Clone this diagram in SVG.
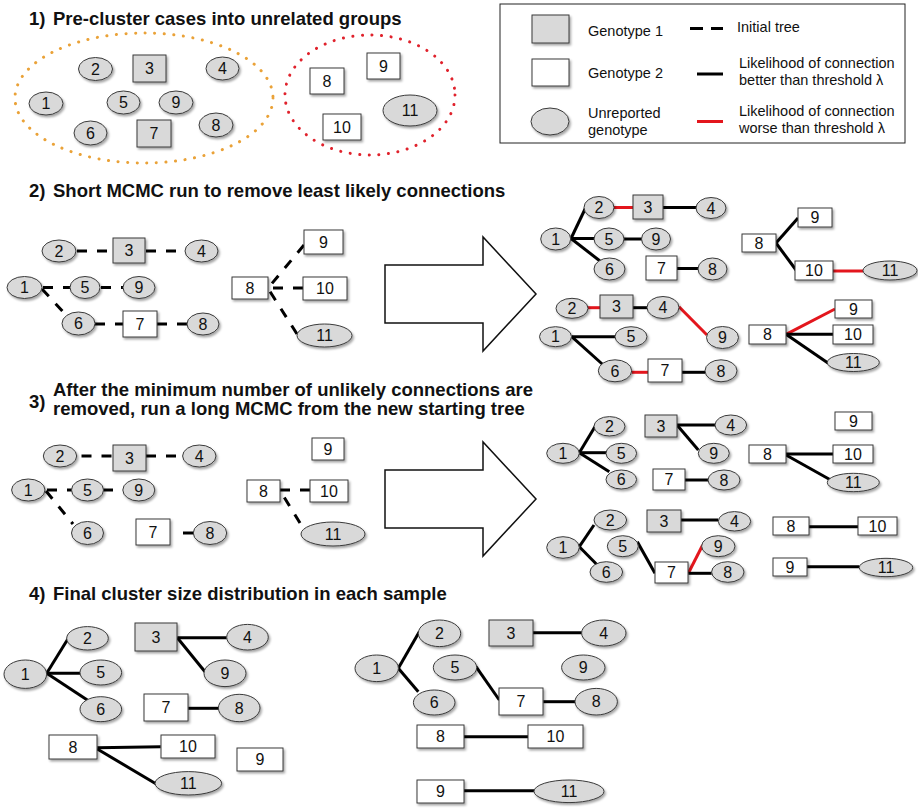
<svg xmlns="http://www.w3.org/2000/svg" width="918" height="811" viewBox="0 0 918 811">
<defs>
<filter id="sh" x="-30%" y="-30%" width="170%" height="170%">
<feDropShadow dx="1.5" dy="2" stdDeviation="1.3" flood-color="#000" flood-opacity="0.35"/>
</filter>
<style>
.u,.g1{fill:#d9d9d9;stroke:#3a3a3a;stroke-width:1;filter:url(#sh)}
.g2{fill:#fff;stroke:#3a3a3a;stroke-width:1;filter:url(#sh)}
text{font-family:"Liberation Sans",Arial,sans-serif;fill:#111}
.node text{font-size:16px;text-anchor:middle}
.title{font-size:18.5px;font-weight:bold}
.leg{font-size:14.5px}
.s{stroke:#000;stroke-width:3;fill:none}
.r{stroke:#e3161d;stroke-width:3;fill:none}
.d{stroke:#000;stroke-width:3;fill:none;stroke-dasharray:10 10}
.arrow{fill:#fff;stroke:#111;stroke-width:1.5}
</style>
</defs>
<rect width="918" height="811" fill="#fff"/>

<!-- Titles -->
<text class="title" x="29" y="25">1)</text>
<text class="title" x="53" y="25">Pre-cluster cases into unrelated groups</text>
<text class="title" x="29" y="197">2)</text>
<text class="title" x="53" y="197">Short MCMC run to remove least likely connections</text>
<text class="title" x="29" y="408">3)</text>
<text class="title" x="53" y="396">After the minimum number of unlikely connections are</text>
<text class="title" x="53" y="415">removed, run a long MCMC from the new starting tree</text>
<text class="title" x="29" y="600">4)</text>
<text class="title" x="53" y="600">Final cluster size distribution in each sample</text>

<!-- Legend -->
<g id="legend">
<rect x="500" y="4" width="405" height="139" fill="#fff" stroke="#222" stroke-width="1"/>
<rect class="g1" x="532" y="15" width="37" height="28"/>
<rect class="g2" x="532" y="59" width="37" height="27"/>
<ellipse class="u" cx="550" cy="121.5" rx="19" ry="13.5"/>
<text class="leg" x="588" y="36">Genotype 1</text>
<text class="leg" x="588" y="78">Genotype 2</text>
<text class="leg" x="588" y="118">Unreported</text>
<text class="leg" x="588" y="135">genotype</text>
<line x1="690" y1="28.5" x2="703" y2="28.5" stroke="#000" stroke-width="3"/>
<line x1="711" y1="28.5" x2="723" y2="28.5" stroke="#000" stroke-width="3"/>
<line x1="697" y1="74" x2="723" y2="74" stroke="#000" stroke-width="3"/>
<line x1="697" y1="121.5" x2="723" y2="121.5" stroke="#e3161d" stroke-width="3"/>
<text class="leg" x="737" y="32">Initial tree</text>
<text class="leg" x="739" y="68">Likelihood of connection</text>
<text class="leg" x="739" y="85">better than threshold λ</text>
<text class="leg" x="739" y="116">Likelihood of connection</text>
<text class="leg" x="739" y="133">worse than threshold λ</text>
</g>

<!-- Section 1 groups -->
<ellipse cx="144" cy="98" rx="129" ry="65" fill="none" stroke="#eaa238" stroke-width="3" stroke-linecap="round" stroke-dasharray="0.1 9.5"/>
<ellipse cx="370" cy="95" rx="85" ry="60" fill="none" stroke="#e0222c" stroke-width="3" stroke-linecap="round" stroke-dasharray="0.1 9.5"/>

<!-- Big arrows -->
<path class="arrow" d="M385,265 H483 V237 L536,294 L483,351 V323 H385 Z"/>
<path class="arrow" d="M385,470 H483 V442 L536,499 L483,556 V528 H385 Z"/>

<!-- Connectors -->
<g id="connectors">
<!-- section 2 left -->
<line class="d" x1="77" y1="251" x2="113" y2="251"/>
<line class="d" x1="146" y1="251" x2="185" y2="251"/>
<line class="d" x1="43" y1="287.5" x2="70" y2="287.5"/>
<line class="d" x1="101" y1="287.5" x2="123" y2="287.5"/>
<line class="d" x1="42" y1="289" x2="66" y2="315"/>
<line class="d" x1="95" y1="324" x2="123" y2="324"/>
<line class="d" x1="157" y1="324" x2="187" y2="324"/>
<line class="d" x1="304" y1="245" x2="269" y2="287"/>
<line class="d" x1="303" y1="288" x2="269" y2="288"/>
<line class="d" x1="297" y1="334" x2="269" y2="290"/>
<!-- section 2 right top -->
<line class="s" x1="571" y1="238.5" x2="586" y2="207"/>
<line class="s" x1="571" y1="238.5" x2="594" y2="238.5"/>
<line class="s" x1="571" y1="238.5" x2="600" y2="261"/>
<line class="r" x1="614" y1="207.5" x2="633" y2="207.5"/>
<line class="s" x1="663" y1="207.5" x2="697" y2="207.5"/>
<line class="s" x1="624" y1="239" x2="642" y2="239"/>
<line class="s" x1="677" y1="268.5" x2="698" y2="268.5"/>
<line class="s" x1="776" y1="243" x2="798" y2="218"/>
<line class="s" x1="776" y1="243" x2="796" y2="270"/>
<line class="r" x1="833" y1="271" x2="863" y2="271"/>
<!-- section 2 right bottom -->
<line class="r" x1="588" y1="307.7" x2="600" y2="307.7"/>
<line class="s" x1="633" y1="307.7" x2="647" y2="307.7"/>
<line class="r" x1="679" y1="306.7" x2="707" y2="335"/>
<line class="s" x1="571.7" y1="336.7" x2="615" y2="336.7"/>
<line class="s" x1="571.7" y1="336.7" x2="603.3" y2="365"/>
<line class="r" x1="631.7" y1="372.3" x2="648.3" y2="372.3"/>
<line class="s" x1="681.7" y1="372.3" x2="705" y2="372.3"/>
<line class="r" x1="786" y1="334.3" x2="835" y2="309"/>
<line class="s" x1="786" y1="334.3" x2="833" y2="334.3"/>
<line class="s" x1="786" y1="334.3" x2="828.3" y2="363.3"/>
<!-- section 3 left -->
<line class="d" x1="81.5" y1="456" x2="113" y2="456"/>
<line class="d" x1="146" y1="456" x2="183" y2="456"/>
<line class="d" x1="47" y1="490" x2="72" y2="490"/>
<line class="d" x1="103" y1="490" x2="123" y2="490"/>
<line class="d" x1="46" y1="491" x2="73" y2="524"/>
<line class="s" x1="183" y1="533" x2="194" y2="533"/>
<line class="d" x1="310" y1="490" x2="280" y2="490"/>
<line class="d" x1="300" y1="523" x2="281" y2="492"/>
<!-- section 3 right top -->
<line class="s" x1="579.3" y1="452.7" x2="596" y2="425"/>
<line class="s" x1="579.3" y1="452.7" x2="606" y2="452.7"/>
<line class="s" x1="579.3" y1="452.7" x2="609.3" y2="471.7"/>
<line class="s" x1="677" y1="425" x2="715" y2="425"/>
<line class="s" x1="677" y1="425" x2="698.3" y2="450"/>
<line class="s" x1="685" y1="480" x2="708" y2="480"/>
<line class="s" x1="786" y1="454" x2="833" y2="454"/>
<line class="s" x1="786" y1="455" x2="830.7" y2="480"/>
<!-- section 3 right bottom -->
<line class="s" x1="579.3" y1="546.7" x2="594" y2="525"/>
<line class="s" x1="579.3" y1="546.7" x2="597.3" y2="565"/>
<line class="s" x1="637.3" y1="541.7" x2="655" y2="573.3"/>
<line class="r" x1="688.3" y1="573.3" x2="702.7" y2="545"/>
<line class="s" x1="688.3" y1="573.3" x2="711.7" y2="573.3"/>
<line class="s" x1="680.7" y1="520" x2="718.3" y2="520"/>
<line class="s" x1="809" y1="526.7" x2="858" y2="526.7"/>
<line class="s" x1="807" y1="566.7" x2="859.3" y2="566.7"/>
<!-- section 4 left -->
<line class="s" x1="46.7" y1="673.3" x2="68.3" y2="638.3"/>
<line class="s" x1="46.7" y1="673.3" x2="80" y2="673.3"/>
<line class="s" x1="46.7" y1="673.3" x2="87.3" y2="700"/>
<line class="s" x1="177.3" y1="637.7" x2="226.7" y2="637.7"/>
<line class="s" x1="177.3" y1="637.7" x2="205" y2="671.7"/>
<line class="s" x1="188.3" y1="708.3" x2="218.3" y2="708.3"/>
<line class="s" x1="97.3" y1="747.7" x2="160.7" y2="746.7"/>
<line class="s" x1="97.3" y1="749" x2="156.7" y2="784.3"/>
<!-- section 4 right -->
<line class="s" x1="398.3" y1="668.3" x2="419.3" y2="631.7"/>
<line class="s" x1="398.3" y1="668.3" x2="418.3" y2="691.7"/>
<line class="s" x1="532.7" y1="632.7" x2="581.7" y2="632.7"/>
<line class="s" x1="476" y1="666.7" x2="499.3" y2="700"/>
<line class="s" x1="543.3" y1="701.7" x2="575" y2="701.7"/>
<line class="s" x1="464" y1="736.7" x2="528.3" y2="736.7"/>
<line class="s" x1="464" y1="790.7" x2="534" y2="790.7"/>
</g>

<!-- Section 1 nodes -->
<g id="s1-n2" class="node"><ellipse class="u" cx="95.5" cy="69" rx="17" ry="11.5"/><text x="95.5" y="74.7">2</text></g>
<g id="s1-n3" class="node"><rect class="g1" x="133" y="55" width="33" height="27"/><text x="149.5" y="74.2">3</text></g>
<g id="s1-n4" class="node"><ellipse class="u" cx="222.5" cy="68.5" rx="16.5" ry="11.5"/><text x="222.5" y="74.2">4</text></g>
<g id="s1-n1" class="node"><ellipse class="u" cx="46" cy="103.5" rx="17" ry="11.5"/><text x="46" y="109.2">1</text></g>
<g id="s1-n5" class="node"><ellipse class="u" cx="123.5" cy="102.5" rx="16.5" ry="11.5"/><text x="123.5" y="108.2">5</text></g>
<g id="s1-n9" class="node"><ellipse class="u" cx="176" cy="102.5" rx="17" ry="11.5"/><text x="176" y="108.2">9</text></g>
<g id="s1-n6" class="node"><ellipse class="u" cx="90.5" cy="133" rx="16.5" ry="12"/><text x="90.5" y="138.7">6</text></g>
<g id="s1-n7" class="node"><rect class="g1" x="137" y="120" width="34" height="27"/><text x="154" y="139.2">7</text></g>
<g id="s1-n8" class="node"><ellipse class="u" cx="216" cy="125" rx="17" ry="12"/><text x="216" y="130.7">8</text></g>
<g id="s1-r8" class="node"><rect class="g2" x="310" y="68" width="34" height="26"/><text x="327" y="86.7">8</text></g>
<g id="s1-r9" class="node"><rect class="g2" x="367" y="53" width="33" height="26"/><text x="383.5" y="71.7">9</text></g>
<g id="s1-r10" class="node"><rect class="g2" x="323" y="114" width="38" height="26"/><text x="342" y="132.7">10</text></g>
<g id="s1-n11" class="node"><ellipse class="u" cx="410" cy="110.5" rx="27" ry="15.5"/><text x="410" y="116.2">11</text></g>

<!-- Section 2 left nodes -->
<g id="s2l-n2" class="node"><ellipse class="u" cx="59" cy="251" rx="17" ry="11"/><text x="59" y="256.7">2</text></g>
<g id="s2l-n3" class="node"><rect class="g1" x="113" y="238" width="32" height="25"/><text x="129" y="256.2">3</text></g>
<g id="s2l-n4" class="node"><ellipse class="u" cx="201.5" cy="251" rx="16.5" ry="11"/><text x="201.5" y="256.7">4</text></g>
<g id="s2l-n1" class="node"><ellipse class="u" cx="24.5" cy="287.5" rx="17.5" ry="11"/><text x="24.5" y="293.2">1</text></g>
<g id="s2l-n5" class="node"><ellipse class="u" cx="85" cy="287.5" rx="15" ry="11"/><text x="85" y="293.2">5</text></g>
<g id="s2l-n9" class="node"><ellipse class="u" cx="139" cy="287.5" rx="16" ry="11"/><text x="139" y="293.2">9</text></g>
<g id="s2l-n6" class="node"><ellipse class="u" cx="78.5" cy="323.5" rx="16.5" ry="11.5"/><text x="78.5" y="329.2">6</text></g>
<g id="s2l-n7" class="node"><rect class="g2" x="123" y="311" width="34" height="26"/><text x="140" y="329.7">7</text></g>
<g id="s2l-n8" class="node"><ellipse class="u" cx="203" cy="324" rx="16" ry="11"/><text x="203" y="329.7">8</text></g>
<g id="s2l-r8" class="node"><rect class="g2" x="232" y="277" width="36" height="22"/><text x="250" y="293.7">8</text></g>
<g id="s2l-r9" class="node"><rect class="g2" x="304" y="230" width="39" height="24"/><text x="323.5" y="247.7">9</text></g>
<g id="s2l-r10" class="node"><rect class="g2" x="303" y="277" width="44" height="23"/><text x="325" y="294.2">10</text></g>
<g id="s2l-n11" class="node"><ellipse class="u" cx="324.5" cy="335.5" rx="27.5" ry="11.5"/><text x="324.5" y="341.2">11</text></g>

<!-- Section 2 right top nodes -->
<g id="s2a-n2" class="node"><ellipse class="u" cx="599" cy="207.5" rx="15" ry="11"/><text x="599" y="213.2">2</text></g>
<g id="s2a-n3" class="node"><rect class="g1" x="633" y="195" width="30" height="24"/><text x="648" y="212.7">3</text></g>
<g id="s2a-n4" class="node"><ellipse class="u" cx="711" cy="208" rx="15" ry="10.5"/><text x="711" y="213.7">4</text></g>
<g id="s2a-n1" class="node"><ellipse class="u" cx="555.7" cy="239" rx="15" ry="11"/><text x="555.7" y="244.7">1</text></g>
<g id="s2a-n5" class="node"><ellipse class="u" cx="609" cy="239" rx="15" ry="11"/><text x="609" y="244.7">5</text></g>
<g id="s2a-n9" class="node"><ellipse class="u" cx="656" cy="239" rx="14.5" ry="11"/><text x="656" y="244.7">9</text></g>
<g id="s2a-n6" class="node"><ellipse class="u" cx="609.5" cy="269" rx="15.5" ry="11"/><text x="609.5" y="274.7">6</text></g>
<g id="s2a-n7" class="node"><rect class="g2" x="646" y="256" width="31" height="24"/><text x="661.5" y="273.7">7</text></g>
<g id="s2a-n8" class="node"><ellipse class="u" cx="712.5" cy="269" rx="14.5" ry="11"/><text x="712.5" y="274.7">8</text></g>
<g id="s2a-r8" class="node"><rect class="g2" x="742" y="234" width="34" height="18"/><text x="759" y="248.7">8</text></g>
<g id="s2a-r9" class="node"><rect class="g2" x="798" y="208" width="34" height="19"/><text x="815" y="223.2">9</text></g>
<g id="s2a-r10" class="node"><rect class="g2" x="795" y="261" width="38" height="19"/><text x="814" y="276.2">10</text></g>
<g id="s2a-n11" class="node"><ellipse class="u" cx="890" cy="270.5" rx="27" ry="9.5"/><text x="890" y="276.2">11</text></g>

<!-- Section 2 right bottom nodes -->
<g id="s2b-n2" class="node"><ellipse class="u" cx="572" cy="308.3" rx="16" ry="10"/><text x="572" y="314">2</text></g>
<g id="s2b-n3" class="node"><rect class="g1" x="600" y="295" width="33" height="23"/><text x="616.5" y="312.2">3</text></g>
<g id="s2b-n4" class="node"><ellipse class="u" cx="663" cy="307.5" rx="16" ry="11"/><text x="663" y="313.2">4</text></g>
<g id="s2b-n9" class="node"><ellipse class="u" cx="722.5" cy="337.5" rx="16" ry="11"/><text x="722.5" y="343.2">9</text></g>
<g id="s2b-n1" class="node"><ellipse class="u" cx="555.5" cy="336.7" rx="16" ry="10"/><text x="555.5" y="342.4">1</text></g>
<g id="s2b-n5" class="node"><ellipse class="u" cx="631" cy="336.7" rx="16" ry="10"/><text x="631" y="342.4">5</text></g>
<g id="s2b-n6" class="node"><ellipse class="u" cx="615" cy="370.8" rx="16.7" ry="11"/><text x="615" y="376.5">6</text></g>
<g id="s2b-n7" class="node"><rect class="g2" x="648" y="359" width="34" height="23"/><text x="665" y="376.2">7</text></g>
<g id="s2b-n8" class="node"><ellipse class="u" cx="721" cy="370.8" rx="16" ry="11"/><text x="721" y="376.5">8</text></g>
<g id="s2b-r8" class="node"><rect class="g2" x="749" y="325" width="37" height="19"/><text x="767.5" y="340.2">8</text></g>
<g id="s2b-r9" class="node"><rect class="g2" x="835" y="300" width="37" height="18"/><text x="853.5" y="314.7">9</text></g>
<g id="s2b-r10" class="node"><rect class="g2" x="833" y="325" width="40" height="19"/><text x="853" y="340.2">10</text></g>
<g id="s2b-n11" class="node"><ellipse class="u" cx="853.3" cy="362.5" rx="26" ry="9"/><text x="853.3" y="368.2">11</text></g>

<!-- Section 3 left nodes -->
<g id="s3l-n2" class="node"><ellipse class="u" cx="60" cy="456" rx="16.7" ry="11"/><text x="60" y="461.7">2</text></g>
<g id="s3l-n3" class="node"><rect class="g1" x="113" y="445" width="33" height="26"/><text x="129.5" y="463.7">3</text></g>
<g id="s3l-n4" class="node"><ellipse class="u" cx="199.3" cy="456" rx="16.7" ry="11"/><text x="199.3" y="461.7">4</text></g>
<g id="s3l-n1" class="node"><ellipse class="u" cx="28.3" cy="490" rx="16.7" ry="11"/><text x="28.3" y="495.7">1</text></g>
<g id="s3l-n5" class="node"><ellipse class="u" cx="87.5" cy="490" rx="16" ry="11"/><text x="87.5" y="495.7">5</text></g>
<g id="s3l-n9" class="node"><ellipse class="u" cx="138.8" cy="490" rx="16" ry="11"/><text x="138.8" y="495.7">9</text></g>
<g id="s3l-n6" class="node"><ellipse class="u" cx="87.5" cy="533" rx="16" ry="11.5"/><text x="87.5" y="538.7">6</text></g>
<g id="s3l-n7" class="node"><rect class="g2" x="136" y="519" width="34" height="26"/><text x="153" y="537.7">7</text></g>
<g id="s3l-n8" class="node"><ellipse class="u" cx="210" cy="533" rx="16.7" ry="11.5"/><text x="210" y="538.7">8</text></g>
<g id="s3l-r9" class="node"><rect class="g2" x="312" y="438" width="32" height="22"/><text x="328" y="454.7">9</text></g>
<g id="s3l-r8" class="node"><rect class="g2" x="247" y="480" width="33" height="22"/><text x="263.5" y="496.7">8</text></g>
<g id="s3l-r10" class="node"><rect class="g2" x="310" y="480" width="38" height="22"/><text x="329" y="496.7">10</text></g>
<g id="s3l-n11" class="node"><ellipse class="u" cx="333" cy="534" rx="32" ry="12"/><text x="333" y="539.7">11</text></g>

<!-- Section 3 right top nodes -->
<g id="s3a-n2" class="node"><ellipse class="u" cx="609.5" cy="426.3" rx="15.5" ry="9.7"/><text x="609.5" y="432">2</text></g>
<g id="s3a-n1" class="node"><ellipse class="u" cx="563" cy="453.3" rx="16.3" ry="10"/><text x="563" y="459">1</text></g>
<g id="s3a-n5" class="node"><ellipse class="u" cx="621.3" cy="453.3" rx="15.3" ry="10"/><text x="621.3" y="459">5</text></g>
<g id="s3a-n6" class="node"><ellipse class="u" cx="621.3" cy="479.5" rx="15.3" ry="9.5"/><text x="621.3" y="485.2">6</text></g>
<g id="s3a-n3" class="node"><rect class="g1" x="645" y="415" width="32" height="22"/><text x="661" y="431.7">3</text></g>
<g id="s3a-n4" class="node"><ellipse class="u" cx="730.8" cy="425" rx="15.8" ry="10"/><text x="730.8" y="430.7">4</text></g>
<g id="s3a-n9" class="node"><ellipse class="u" cx="713.8" cy="453.3" rx="15.5" ry="10"/><text x="713.8" y="459">9</text></g>
<g id="s3a-n7" class="node"><rect class="g2" x="653" y="469" width="32" height="21"/><text x="669" y="485.2">7</text></g>
<g id="s3a-n8" class="node"><ellipse class="u" cx="724" cy="480" rx="16" ry="10"/><text x="724" y="485.7">8</text></g>
<g id="s3a-r9" class="node"><rect class="g2" x="835" y="412" width="37" height="18"/><text x="853.5" y="426.7">9</text></g>
<g id="s3a-r8" class="node"><rect class="g2" x="749" y="445" width="37" height="18"/><text x="767.5" y="459.7">8</text></g>
<g id="s3a-r10" class="node"><rect class="g2" x="833" y="445" width="40" height="18"/><text x="853" y="459.7">10</text></g>
<g id="s3a-n11" class="node"><ellipse class="u" cx="853.3" cy="482.5" rx="26" ry="9.2"/><text x="853.3" y="488.2">11</text></g>

<!-- Section 3 right bottom nodes -->
<g id="s3b-n2" class="node"><ellipse class="u" cx="610.3" cy="520" rx="16.3" ry="10"/><text x="610.3" y="525.7">2</text></g>
<g id="s3b-n1" class="node"><ellipse class="u" cx="563" cy="547.5" rx="16.3" ry="10.8"/><text x="563" y="553.2">1</text></g>
<g id="s3b-n6" class="node"><ellipse class="u" cx="606.3" cy="572" rx="16.3" ry="10.3"/><text x="606.3" y="577.7">6</text></g>
<g id="s3b-n5" class="node"><ellipse class="u" cx="622.8" cy="546.2" rx="15.5" ry="10.5"/><text x="622.8" y="551.9">5</text></g>
<g id="s3b-n7" class="node"><rect class="g2" x="655" y="562" width="33" height="21"/><text x="671.5" y="578.2">7</text></g>
<g id="s3b-n9" class="node"><ellipse class="u" cx="718.3" cy="546.2" rx="16.7" ry="10.5"/><text x="718.3" y="551.9">9</text></g>
<g id="s3b-n8" class="node"><ellipse class="u" cx="727.8" cy="572" rx="16.2" ry="10.3"/><text x="727.8" y="577.7">8</text></g>
<g id="s3b-n3" class="node"><rect class="g1" x="647" y="510" width="34" height="22"/><text x="664" y="526.7">3</text></g>
<g id="s3b-n4" class="node"><ellipse class="u" cx="734.5" cy="521.3" rx="16.2" ry="9.7"/><text x="734.5" y="527">4</text></g>
<g id="s3b-r8" class="node"><rect class="g2" x="773" y="517" width="36" height="18"/><text x="791" y="531.7">8</text></g>
<g id="s3b-r10" class="node"><rect class="g2" x="858" y="517" width="39" height="18"/><text x="877.5" y="531.7">10</text></g>
<g id="s3b-r9" class="node"><rect class="g2" x="773" y="558" width="34" height="18"/><text x="790" y="572.7">9</text></g>
<g id="s3b-n11" class="node"><ellipse class="u" cx="886" cy="567.5" rx="26.7" ry="9.2"/><text x="886" y="573.2">11</text></g>

<!-- Section 4 left nodes -->
<g id="s4a-n2" class="node"><ellipse class="u" cx="87.5" cy="638.3" rx="20.8" ry="11.7"/><text x="87.5" y="644">2</text></g>
<g id="s4a-n3" class="node"><rect class="g1" x="135" y="623" width="42" height="28"/><text x="156" y="642.7">3</text></g>
<g id="s4a-n4" class="node"><ellipse class="u" cx="247.5" cy="637.2" rx="20.8" ry="12.8"/><text x="247.5" y="642.9">4</text></g>
<g id="s4a-n1" class="node"><ellipse class="u" cx="25.3" cy="674.2" rx="21.3" ry="14.2"/><text x="25.3" y="679.9">1</text></g>
<g id="s4a-n5" class="node"><ellipse class="u" cx="100.8" cy="672.5" rx="20.8" ry="12.5"/><text x="100.8" y="678.2">5</text></g>
<g id="s4a-n6" class="node"><ellipse class="u" cx="100.8" cy="709.2" rx="20.8" ry="12.5"/><text x="100.8" y="714.9">6</text></g>
<g id="s4a-n9" class="node"><ellipse class="u" cx="225" cy="673.3" rx="21" ry="13.3"/><text x="225" y="679">9</text></g>
<g id="s4a-n7" class="node"><rect class="g2" x="144" y="694" width="44" height="27"/><text x="166" y="713.2">7</text></g>
<g id="s4a-n8" class="node"><ellipse class="u" cx="239.2" cy="708" rx="20.8" ry="13.7"/><text x="239.2" y="713.7">8</text></g>
<g id="s4a-r8" class="node"><rect class="g2" x="49" y="735" width="48" height="24"/><text x="73" y="752.7">8</text></g>
<g id="s4a-r10" class="node"><rect class="g2" x="161" y="735" width="54" height="23"/><text x="188" y="752.2">10</text></g>
<g id="s4a-n11" class="node"><ellipse class="u" cx="188.3" cy="783.3" rx="33.3" ry="11.7"/><text x="188.3" y="789">11</text></g>
<g id="s4a-r9" class="node"><rect class="g2" x="237" y="748" width="46" height="23"/><text x="260" y="765.2">9</text></g>

<!-- Section 4 right nodes -->
<g id="s4b-n2" class="node"><ellipse class="u" cx="439.5" cy="633.3" rx="21.2" ry="13.3"/><text x="439.5" y="639">2</text></g>
<g id="s4b-n1" class="node"><ellipse class="u" cx="376.7" cy="668.3" rx="21.7" ry="13.3"/><text x="376.7" y="674">1</text></g>
<g id="s4b-n6" class="node"><ellipse class="u" cx="434.2" cy="702.5" rx="20.8" ry="12.5"/><text x="434.2" y="708.2">6</text></g>
<g id="s4b-n3" class="node"><rect class="g1" x="489" y="620" width="44" height="26"/><text x="511" y="638.7">3</text></g>
<g id="s4b-n4" class="node"><ellipse class="u" cx="603.8" cy="633" rx="22.2" ry="13"/><text x="603.8" y="638.7">4</text></g>
<g id="s4b-n5" class="node"><ellipse class="u" cx="455" cy="667.5" rx="21.7" ry="12.5"/><text x="455" y="673.2">5</text></g>
<g id="s4b-n9" class="node"><ellipse class="u" cx="583.3" cy="667.5" rx="21.7" ry="12.5"/><text x="583.3" y="673.2">9</text></g>
<g id="s4b-n7" class="node"><rect class="g2" x="499" y="688" width="44" height="27"/><text x="521" y="707.2">7</text></g>
<g id="s4b-n8" class="node"><ellipse class="u" cx="596.2" cy="701.7" rx="21.2" ry="13.3"/><text x="596.2" y="707.4">8</text></g>
<g id="s4b-r8" class="node"><rect class="g2" x="417" y="725" width="47" height="23"/><text x="440.5" y="742.2">8</text></g>
<g id="s4b-r10" class="node"><rect class="g2" x="528" y="725" width="55" height="23"/><text x="555.5" y="742.2">10</text></g>
<g id="s4b-r9" class="node"><rect class="g2" x="417" y="780" width="47" height="23"/><text x="440.5" y="797.2">9</text></g>
<g id="s4b-n11" class="node"><ellipse class="u" cx="569" cy="791.3" rx="35" ry="11.3"/><text x="569" y="797">11</text></g>
</svg>
